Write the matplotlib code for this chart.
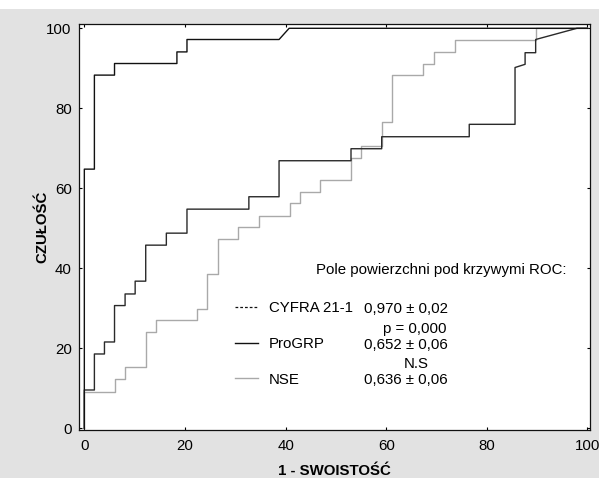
import matplotlib
matplotlib.use("Agg")
import matplotlib.pyplot as plt
from matplotlib.lines import Line2D
from matplotlib.patches import Rectangle

# ---- data (ROC vertices: 1 - specificity, sensitivity, in %) ----
cyfra_fpr = [0, 0, 2.0, 2.0, 6.0, 6.0, 18.4, 18.4, 20.4, 20.4, 38.7, 40.7, 100]
cyfra_tpr = [0, 64.8, 64.8, 88.3, 88.3, 91.2, 91.2, 94.1, 94.1, 97.2, 97.2, 100, 100]

progrp_fpr = [0, 0, 2.0, 2.0, 4.0, 4.0, 6.0, 6.0, 8.1, 8.1, 10.1, 10.1, 12.2, 12.2,
              16.3, 16.3, 20.4, 20.4, 32.7, 32.7, 38.7, 38.7, 53.0, 53.0, 59.1, 59.1,
              76.5, 76.5, 85.6, 85.6, 87.6, 87.6, 89.7, 89.7, 97.9, 100]
progrp_tpr = [0, 9.6, 9.6, 18.6, 18.6, 21.6, 21.6, 30.7, 30.7, 33.6, 33.6, 36.8, 36.8, 45.8,
              45.8, 48.8, 48.8, 54.8, 54.8, 57.9, 57.9, 66.9, 66.9, 69.9, 69.9, 72.9,
              72.9, 76.0, 76.0, 90.2, 91.0, 93.9, 93.9, 97.2, 100, 100]

nse_fpr = [0, 0, 6.0, 6.0, 8.1, 8.1, 12.2, 12.2, 14.3, 14.3, 22.4, 22.4, 24.4, 24.4,
           26.5, 26.5, 30.6, 30.6, 34.7, 34.7, 40.8, 40.8, 42.9, 42.9, 46.9, 46.9,
           53.0, 53.0, 55.0, 55.0, 59.1, 59.1, 61.2, 61.2, 67.4, 67.4, 69.5, 69.5,
           73.6, 73.6, 89.7, 89.7, 100]
nse_tpr = [0, 9.2, 9.2, 12.3, 12.3, 15.3, 15.3, 24.0, 24.0, 27.0, 27.0, 29.9, 29.9, 38.6,
           38.6, 47.3, 47.3, 50.4, 50.4, 53.1, 53.1, 56.3, 56.3, 59.1, 59.1, 62.0,
           62.0, 67.7, 67.7, 70.6, 70.6, 76.7, 76.7, 88.3, 88.3, 91.2, 91.2, 94.1,
           94.1, 97.2, 97.2, 100, 100]

series_names = ["CYFRA 21-1", "ProGRP", "NSE"]
auc_labels = ["0,970 \u00b1 0,02", "0,652 \u00b1 0,06", "0,636 \u00b1 0,06"]
ticks = [0, 20, 40, 60, 80, 100]

plt.rcParams['font.family'] = ['Liberation Sans', 'DejaVu Sans']
FS = 10.8

fig = plt.figure(figsize=(5.99, 4.78), dpi=100)
fig.patch.set_facecolor('white')
fig.patches.append(Rectangle((0, 0), 1, 1 - 9 / 478, transform=fig.transFigure,
                             facecolor='#e2e2e2', edgecolor='none', zorder=-10))

ax = fig.add_axes([79.3 / 599, 1 - 430 / 478, (590 - 79.3) / 599, (430 - 24.3) / 478])
ax.set_facecolor('white')

ax.plot(nse_fpr, nse_tpr, color='#a9a9a9', lw=1.0, zorder=2)
ax.plot(progrp_fpr, progrp_tpr, color='#2a2a2a', lw=1.0, zorder=3)
ax.plot(cyfra_fpr, cyfra_tpr, color='#111111', lw=1.0, zorder=4)

ax.set_xlim(-1.0, 100.5)
ax.set_ylim(-0.4, 101.0)
ax.set_xticks(ticks)
ax.set_yticks(ticks)
ax.tick_params(direction='in', length=2.5, width=0.8, top=True, right=True,
               labelsize=FS, colors='black', pad=5.5)
ax.tick_params(axis='x', pad=6.5)
for s in ax.spines.values():
    s.set_linewidth(0.9)
    s.set_color('#111111')

ax.set_xlabel("1 - SWOISTO\u015a\u0106", fontsize=FS, fontweight='bold', labelpad=8)
ax.set_ylabel("CZU\u0141O\u015a\u0106", fontsize=FS, fontweight='bold', labelpad=-2)

handles = [Line2D([], [], color='#111111', lw=0.9, ls=(0, (2.2, 1.6))),
           Line2D([], [], color='#111111', lw=1.0),
           Line2D([], [], color='#a9a9a9', lw=1.0)]
leg = ax.legend(handles, series_names, loc='center left', bbox_to_anchor=(0.305, 0.212),
                frameon=False, fontsize=FS, borderpad=0, borderaxespad=0,
                handlelength=1.5, handletextpad=0.75, labelspacing=1.45)

tr = ax.transAxes
ax.text(0.463, 0.3845, "Pole powierzchni pod krzywymi ROC:", transform=tr,
        fontsize=FS, ha='left', va='baseline')
for yb, lab in zip([0.2877, 0.1997, 0.1126], auc_labels):
    ax.text(0.5575, yb, lab, transform=tr, fontsize=FS, ha='left', va='baseline')
ax.text(0.5946, 0.2384, "p = 0,000", transform=tr, fontsize=FS, ha='left', va='baseline')
ax.text(0.6357, 0.1536, "N.S", transform=tr, fontsize=FS, ha='left', va='baseline')

fig.savefig("out.png", dpi=100, facecolor=fig.get_facecolor())
